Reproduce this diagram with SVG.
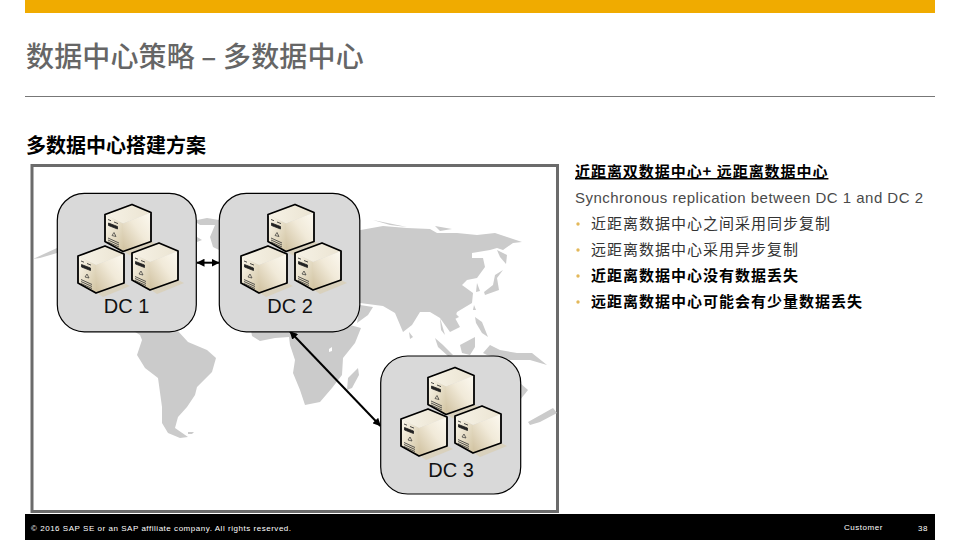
<svg xmlns="http://www.w3.org/2000/svg" width="960" height="540" viewBox="0 0 960 540">
<style>
text{font-family:"Liberation Sans","Noto Sans CJK SC",sans-serif}
.cjk{font-family:"Noto Sans CJK SC","Liberation Sans",sans-serif}
.map{fill:#cbcbcb}
.dc{fill:#d9d9d9;stroke:#000;stroke-width:1.2}
.lbl{font-size:20px;fill:#111;text-anchor:middle}
.con{fill:none;stroke:#000;stroke-width:2;marker-start:url(#a);marker-end:url(#a)}
.body{font-size:15px;fill:#333;letter-spacing:1px}
.bb{font-size:15px;fill:#000;font-weight:700;letter-spacing:1px}
.bul{fill:#e3b85a}
.ft{font-size:8px;fill:#fff;letter-spacing:.53px}
</style>
<defs>
<marker id="a" viewBox="0 0 8 8" refX="7.5" refY="4" markerWidth="4" markerHeight="4" orient="auto-start-reverse" markerUnits="strokeWidth"><path d="M0 0L8 4L0 8z" fill="#000"/></marker>
<linearGradient id="fr" x1="0" y1="0" x2="1" y2="1"><stop offset="0" stop-color="#fdfaf0"/><stop offset="1" stop-color="#d2c4a2"/></linearGradient>
<linearGradient id="ri" x1="0" y1="1" x2="1" y2="0"><stop offset="0" stop-color="#cfc09e"/><stop offset=".55" stop-color="#f1ead9"/><stop offset="1" stop-color="#fcf9f0"/></linearGradient>
<linearGradient id="to" x1="0" y1="0" x2="1" y2="0"><stop offset="0" stop-color="#f6f2e6"/><stop offset="1" stop-color="#ebe4d2"/></linearGradient>
<symbol id="srv" width="54" height="54" viewBox="0 0 54 54" overflow="visible">
<polygon points="20,48 47,38 53,41 26,52" fill="#d9c9a2" opacity=".5"/>
<polygon points="1,11 28,1 47,9 19,20" fill="url(#to)"/>
<polygon points="1,11 19,20 19,48 1,38" fill="url(#fr)"/>
<polygon points="19,20 47,9 47,38 19,48" fill="url(#ri)"/>
<path d="M4 16l3 1.2M10 18.500l4 1.600M4.500 19.500l9 3.500v2.500l-9-3.500z" fill="#222" stroke="#222" stroke-width=".8"/>
<path d="M8 32l2-3 2 4z" fill="none" stroke="#333" stroke-width=".7"/>
<path d="M4 36.500l11 5M4 38.500l11 5M4 34.500l11 5" stroke="#333" stroke-width=".8" fill="none"/>
<polygon points="1,11 28,1 47,9 47,38 19,48 1,38" fill="none" stroke="#000" stroke-width="1.800" stroke-linejoin="round"/>
</symbol>
</defs>
<rect x="25" y="0" width="910" height="13" fill="#f0ab00"/>
<text class="cjk" x="26" y="67" font-size="28" font-weight="500" letter-spacing=".15" fill="#666">数据中心策略 – 多数据中心</text>
<rect x="25" y="96" width="910" height="1" fill="#777"/>
<text class="cjk" x="26" y="153" font-size="20" font-weight="700" fill="#000">多数据中心搭建方案</text>

<g id="frame"><rect x="32" y="165.500" width="525.500" height="346" fill="#fff" stroke="#6b6b6b" stroke-width="3"/></g>

<g id="map">
<polygon class="map" points="132,330 177,330 188,342 207,350 216,358 212,372 197,387 195,395 187,407 178,417 175,428 188,437 180,438 168,433 162,423 162,407 158,378 145,368 137,355 142,340 140,335"/>
<polygon class="map" points="188,432 194,432 192,434 188,434"/>
<polygon class="map" points="250,325 350,325 361,328 355,343 343,358 342,375 332,388 320,402 305,405 300,390 293,373 295,360 290,345 289,337 275,338 260,341 252,336"/>
<polygon points="329,349 332,347 332,351 329,352" fill="#fff"/>
<polygon class="map" points="358,368 359,375 352,388 347,390 348,378"/>
<polygon class="map" points="197,220 207,218 219,220 219,250 213,247 210,237 215,225 200,225 197,223"/>
<polygon class="map" points="197,237 202,240 197,242"/>
<polygon class="map" points="33,259 57,248 57,253 40,258"/>
<polygon class="map" points="355,231 383,226 407,228 430,229 437,233 457,233 477,235 495,233 510,238 522,242 513,243 503,250 497,248 490,250 472,253 472,258 483,258 485,267 477,278 467,280 462,285 473,293 472,303 457,312 455,318 460,327 450,332 440,318 430,312 420,312 412,325 403,332 395,313 383,306 360,303 355,303"/>
<polygon class="map" points="360,305 373,307 368,315 357,323"/>
<polygon class="map" points="373,220 407,227 390,225"/>
<polygon class="map" points="435,226 452,229 440,231"/>
<polygon class="map" points="497,250 507,255 506,264 500,257"/>
<polygon class="map" points="503,270 497,278 499,290 485,295 484,292 493,285 495,275"/>
<polygon class="map" points="477,283 480,291 476,292"/>
<polygon class="map" points="409,332 413,337 410,339"/>
<polygon class="map" points="474,305 476,310 473,310"/>
<polygon class="map" points="455,313 459,317 455,319"/>
<polygon class="map" points="475,317 482,322 488,337 482,333 476,323"/>
<polygon class="map" points="460,345 475,337 475,347 470,355 462,353"/>
<polygon class="map" points="435,338 443,345 453,355 448,356 438,347"/>
<polygon class="map" points="440,318 445,335 441,330"/>
<polygon class="map" points="483,353 490,345 500,350 517,353 532,353 547,365 530,360 510,360 487,355"/>
<polygon class="map" points="520,383 528,390 520,400"/>
<polygon class="map" points="528,422 553,408 557,413 540,422 530,425"/>
</g>

<g id="connectors">
<line class="con" x1="197" y1="262.700" x2="219" y2="262.700"/>
<line class="con" x1="290" y1="331.500" x2="380.500" y2="426"/>
</g>

<g id="dc1">
<rect class="dc" x="57.300" y="193.300" width="139" height="138.500" rx="27"/>
<use href="#srv" x="104" y="203.500"/><use href="#srv" x="77" y="245"/><use href="#srv" x="131" y="242"/>
<text class="lbl" x="126.500" y="313">DC 1</text>
</g>
<g id="dc2">
<rect class="dc" x="219.300" y="193.300" width="140.500" height="138.500" rx="27"/>
<use href="#srv" x="267" y="203.500"/><use href="#srv" x="240" y="245"/><use href="#srv" x="294" y="242"/>
<text class="lbl" x="290" y="313">DC 2</text>
</g>
<g id="dc3">
<rect class="dc" x="380.700" y="356" width="140" height="138" rx="27"/>
<use href="#srv" x="427" y="366.500"/><use href="#srv" x="400" y="408"/><use href="#srv" x="454" y="405"/>
<text class="lbl" x="451" y="476.500">DC 3</text>
</g>

<g id="notes">
<text class="cjk" x="575" y="177" font-size="15" font-weight="700" fill="#000" text-decoration="underline" letter-spacing=".95">近距离双数据中心+ 远距离数据中心</text>
<text x="575" y="203" font-size="15" fill="#4a4a4a" letter-spacing=".48">Synchronous replication between DC 1 and DC 2</text>
<circle class="bul" cx="578" cy="224" r="1.700"/><text class="cjk body" x="591" y="229">近距离数据中心之间采用同步复制</text>
<circle class="bul" cx="578" cy="250" r="1.700"/><text class="cjk body" x="591" y="255">远距离数据中心采用异步复制</text>
<circle class="bul" cx="578" cy="276" r="1.700"/><text class="cjk bb" x="591" y="281">近距离数据中心没有数据丢失</text>
<circle class="bul" cx="578" cy="302" r="1.700"/><text class="cjk bb" x="591" y="307">远距离数据中心可能会有少量数据丢失</text>
</g>

<g id="footer">
<rect x="25" y="514" width="910" height="26" fill="#000"/>
<text class="ft" x="31" y="531">© 2016 SAP SE or an SAP affiliate company. All rights reserved.</text>
<text class="ft" x="844" y="530">Customer</text>
<text class="ft" x="918" y="531">38</text>
</g>
</svg>
